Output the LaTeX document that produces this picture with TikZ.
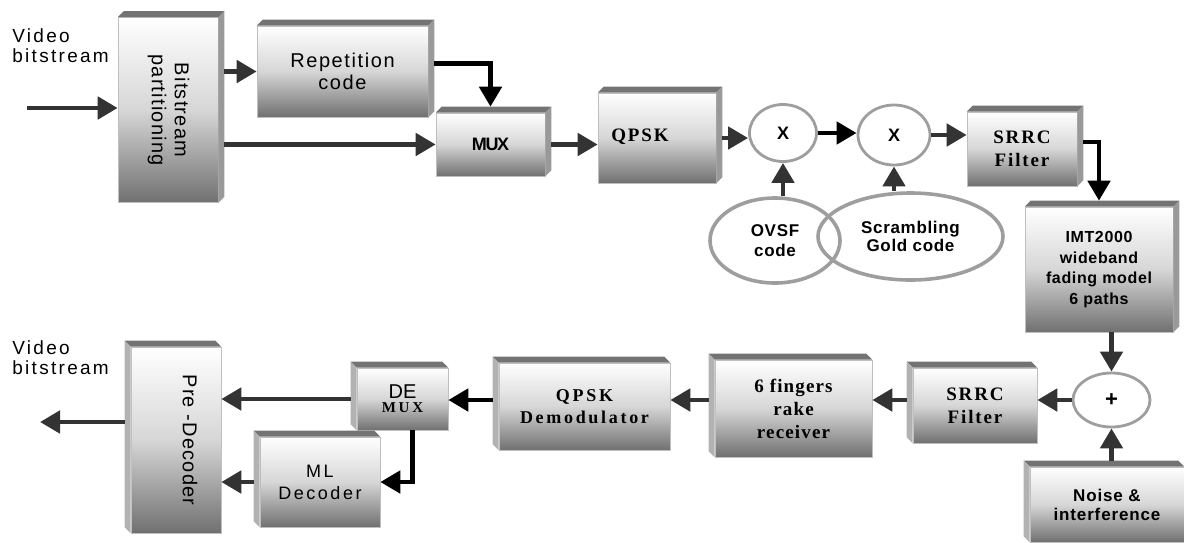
\documentclass[tikz,border=0pt]{standalone}
\usepackage{fontspec}
\setmainfont{Liberation Sans}
\newfontfamily\tms{Liberation Serif}
\usetikzlibrary{arrows.meta,shapes.geometric}

\begin{document}
\begin{tikzpicture}[x=0.5pt,y=-0.5pt,
  blk/.style 2 args={rectangle,inner sep=0pt,minimum width=#1*0.5pt,minimum height=#2*0.5pt,
    top color=white,bottom color=black!56,middle color=black!16,draw=black!25,line width=0.3pt,align=center},
  oval/.style 2 args={ellipse,inner sep=0pt,minimum width=#1*0.5pt,minimum height=#2*0.5pt,
    draw=black!38,line width=1.4pt,align=center},
  flow/.style={draw=black!80,line width=2.4pt,-{Triangle[length=10pt,width=11pt]}},
  kflow/.style={flow,draw=black},
  lbl/.style={font=\fontsize{9.5}{10}\selectfont\addfontfeature{LetterSpace=12},align=left,inner sep=0pt}]
\useasboundingbox (0,0) rectangle (1184,542);

% transmitter
\node[lbl,anchor=north west] (vidin) at (12,28) {Video\\bitstream};
\coordinate (vin) at (27,108);
\node[blk={100}{185},font=\fontsize{10}{11.5}\selectfont\addfontfeature{LetterSpace=6}] (bsp) at (168,110)
  {\rotatebox{-90}{\begin{tabular}{@{}c@{}}Bitstream\\partitioning\end{tabular}}};
\node[blk={171}{91},font=\fontsize{10}{11}\selectfont\addfontfeature{LetterSpace=8}] (rep) at (342.5,71.5) {Repetition\\code};
\node[blk={109}{63},font=\bfseries\fontsize{9}{9}\selectfont\addfontfeature{LetterSpace=-8}] (mux) at (490.5,144.5) {MUX};
\node[blk={118}{90},font=\tms\bfseries\fontsize{9.5}{10}\selectfont\addfontfeature{LetterSpace=10}] (qpsk) at (657,138)
  {\raisebox{2.5pt}{QPSK}\hspace*{17pt}};
\node[oval={67}{57},font=\bfseries\fontsize{9}{9}\selectfont] (mul1) at (783,133) {X};
\node[oval={72}{60},font=\bfseries\fontsize{9}{9}\selectfont] (mul2) at (894,135) {X};
\node[blk={110}{74},font=\tms\bfseries\fontsize{9.5}{11.5}\selectfont\addfontfeature{LetterSpace=10}] (srrc) at (1022,149) {SRRC\\Filter};
\node[oval={130}{85},line width=1.8pt,font=\bfseries\fontsize{8.5}{10}\selectfont\addfontfeature{LetterSpace=4}] (ovsf) at (775,240.5) {OVSF\\code};
\node[oval={185}{87},line width=1.8pt,font=\bfseries\fontsize{8.5}{9}\selectfont\addfontfeature{LetterSpace=4}] (gold) at (910.5,236.5) {Scrambling\\Gold code};

% channel
\node[blk={148}{125},font=\bfseries\fontsize{8}{10.3}\selectfont\addfontfeature{LetterSpace=4}] (imt) at (1099,269.5)
  {IMT2000\\wideband\\fading model\\6 paths\hspace*{0pt}};
\node[oval={77}{54},font=\bfseries\fontsize{11}{11}\selectfont] (add) at (1111.5,400) {+};
\node[blk={154}{75},font=\bfseries\fontsize{8.5}{9.5}\selectfont\addfontfeature{LetterSpace=5}] (noise) at (1107,504.5) {Noise \&\\interference};

% receiver
\node[blk={124}{75},font=\tms\bfseries\fontsize{9.5}{11.5}\selectfont\addfontfeature{LetterSpace=10}] (srrcR) at (975,405.5) {SRRC\\Filter};
\node[blk={157}{97},font=\tms\bfseries\fontsize{9.5}{11.5}\selectfont\addfontfeature{LetterSpace=6}] (rake) at (793.5,408.5) {6 fingers\\rake\\receiver};
\node[blk={171}{87},font=\tms\bfseries\fontsize{9}{11}\selectfont\addfontfeature{LetterSpace=15}] (qdem) at (584.5,406.5) {QPSK\\Demodulator};
\node[blk={91}{62},font=\fontsize{10}{10}\selectfont] (demux) at (402.5,399)
  {DE\\[-3pt]{\tms\bfseries\fontsize{7.5}{7.5}\selectfont\addfontfeature{LetterSpace=18}MUX}};
\node[blk={120}{90},font=\fontsize{9}{11}\selectfont\addfontfeature{LetterSpace=14}] (mldec) at (320,482) {ML\\Decoder};
\node[blk={90}{186},font=\fontsize{10}{11}\selectfont\addfontfeature{LetterSpace=6}] (pre) at (176,440)
  {\hspace*{14pt}\rotatebox{-90}{Pre -Decoder}};
\node[lbl,anchor=north west] (vidout) at (12,340) {Video\\bitstream};
\coordinate (vout) at (40,422);

% 3d faces: top row sticks out to the right, bottom row to the left
\foreach \b in {bsp,rep,mux,qpsk,srrc,imt}{
  \fill[black!55] (\b.north west) -- ++(3pt,3pt) -- ([shift={(3pt,3pt)}]\b.north east) -- (\b.north east) -- cycle;
  \fill[black!40] (\b.north east) -- ++(3pt,3pt) -- ([shift={(3pt,3pt)}]\b.south east) -- (\b.south east) -- cycle;
}
\foreach \b in {pre,demux,mldec,qdem,rake,srrcR,noise}{
  \fill[black!55] (\b.north east) -- ++(-3pt,3pt) -- ([shift={(-3pt,3pt)}]\b.north west) -- (\b.north west) -- cycle;
  \fill[black!30] (\b.north west) -- ++(-3pt,3pt) -- ([shift={(-3pt,3pt)}]\b.south west) -- (\b.south west) -- cycle;
}

% top chain
\draw[flow] (vin) -- (vin -| bsp.west);
\draw[flow,shorten <=3pt] (bsp.east |- rep.west) -- (rep.west);
\draw[flow,shorten <=3pt] (bsp.east |- mux.west) -- (mux.west);
\draw[kflow,shorten <=3pt,shorten >=3pt] ([yshift=4pt]rep.east) -| (mux.north);
\draw[flow,shorten <=3pt] (mux.east) -- (mux.east -| qpsk.west);
\draw[flow,shorten <=3pt] (qpsk.east) -- (qpsk.east -| mul1.west);
\draw[kflow] (mul1.east) -- (mul1.east -| mul2.west);
\draw[flow] (mul2.east) -- (mul2.east -| srrc.west);
\draw[flow] (mul1.south |- ovsf.north) -- (mul1.south);
\draw[flow] (mul2.south |- gold.north) -- (mul2.south);
\draw[kflow,shorten <=3pt,shorten >=3pt] ([yshift=3.5pt]srrc.east) -| (imt.north);
\draw[flow] (add.north |- imt.south) -- (add.north);
\draw[flow,shorten <=3pt] (add.south |- noise.north) -- (add.south);

% bottom chain
\draw[flow] (add.west) -- (add.west -| srrcR.east);
\draw[flow,shorten <=3pt] (srrcR.west |- add) -- (rake.east |- add);
\draw[flow,shorten <=3pt] (rake.west |- add) -- (qdem.east |- add);
\draw[kflow,shorten <=3pt] (qdem.west |- add) -- (demux.east |- add);
\draw[flow,shorten <=3pt] (demux.west) -- (demux.west -| pre.east);
\draw[kflow] ([xshift=5pt]demux.south) |- (mldec.east);
\draw[flow,shorten <=3pt] (mldec.west) -- (mldec.west -| pre.east);
\draw[flow,shorten <=3pt] (pre.west |- vout) -- (vout);
\end{tikzpicture}
\end{document}
